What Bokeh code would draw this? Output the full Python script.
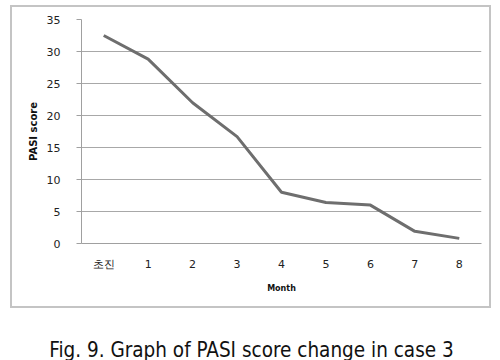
from bokeh.plotting import figure
from bokeh.embed import file_html
from bokeh.resources import INLINE
from bokeh.models import FactorRange, Range1d, Label, FixedTicker

months = ["초진", "1", "2", "3", "4", "5", "6", "7", "8"]
pasi = [32.5, 28.8, 22.0, 16.7, 8.0, 6.4, 6.0, 1.9, 0.8]
y_ticks = [0, 5, 10, 15, 20, 25, 30, 35]
caption = "Fig. 9. Graph of PASI score change in case 3"

p = figure(width=481, height=303, x_range=FactorRange(*months, range_padding=0),
           y_range=Range1d(0, 35), output_backend="svg", toolbar_location=None,
           min_border_left=69, min_border_right=12, min_border_top=12, min_border_bottom=67,
           margin=(5, 0, 0, 10),
           styles={"border": "2px solid #c4c4c4"})
p.outline_line_color = None
p.background_fill_color = "white"
p.border_fill_color = "white"

p.line(months, pasi, line_color="#6e6e6e", line_width=3)

font = "DejaVu Sans"
p.yaxis.ticker = FixedTicker(ticks=y_ticks)
p.yaxis.axis_line_color = "#a0a0a0"
p.yaxis.major_tick_line_color = "#a0a0a0"
p.yaxis.major_tick_out = 5
p.yaxis.major_tick_in = 0
p.yaxis.minor_tick_line_color = None
p.yaxis.major_label_standoff = 16
p.yaxis.major_label_text_font = font
p.yaxis.major_label_text_font_size = "11px"
p.yaxis.major_label_text_color = "#222222"
p.yaxis.axis_label = "PASI score"
p.yaxis.axis_label_text_font = font
p.yaxis.axis_label_text_font_style = "bold"
p.yaxis.axis_label_text_font_size = "10px"
p.yaxis.axis_label_standoff = 5
p.yaxis.axis_label_text_color = "#111111"

p.xaxis.axis_line_color = "#a0a0a0"
p.xaxis.major_tick_line_color = None
p.xaxis.major_tick_out = 0
p.xaxis.major_label_standoff = 14
p.xaxis.major_label_text_font = font
p.xaxis.major_label_text_font_size = "11px"
p.xaxis.major_label_text_color = "#222222"
p.xaxis.axis_label = "Month"
p.xaxis.axis_label_text_font = font
p.xaxis.axis_label_text_font_style = "bold"
p.xaxis.axis_label_text_font_size = "8px"
p.xaxis.axis_label_standoff = 10
p.xaxis.axis_label_text_color = "#111111"

p.xgrid.grid_line_color = None
p.ygrid.ticker = FixedTicker(ticks=y_ticks)
p.ygrid.grid_line_color = "#a8a8a8"
p.ygrid.grid_line_width = 1

# caption strip (separate root, so no frame alignment with the chart)
c = figure(width=500, height=52, x_range=Range1d(0, 500), y_range=Range1d(0, 52),
           x_axis_type=None, y_axis_type=None,
           output_backend="svg", toolbar_location=None,
           min_border=0, margin=(0, 0, 0, 0))
c.grid.grid_line_color = None
c.outline_line_color = None
cap = Label(x=251, y=11, text=caption, text_align="center", text_baseline="alphabetic",
            text_font="DejaVu Sans Condensed, Liberation Sans", text_font_size="20.5px",
            text_color="#111111")
c.add_layout(cap)

open("out.html", "w").write(file_html([p, c], INLINE))
